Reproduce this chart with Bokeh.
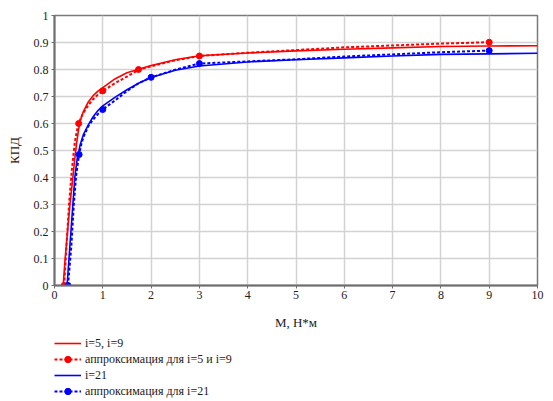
from bokeh.plotting import figure
from bokeh.layouts import column
from bokeh.models import Legend, LegendItem, FixedTicker, Range1d
from bokeh.embed import file_html
from bokeh.resources import INLINE

# ---- data ----
# solid curve, i=5, i=9
m_red = [0.18, 0.22, 0.27, 0.32, 0.38, 0.42, 0.46, 0.5, 0.55, 0.6, 0.7, 0.8, 0.9, 1.0, 1.25, 1.5, 2.0, 2.5, 3.0, 4.0, 5.0, 6.0, 7.0, 8.0, 9.0, 10.0]
eta_red = [0.0, 0.1, 0.2, 0.3, 0.4, 0.47, 0.53, 0.58, 0.62, 0.645, 0.68, 0.703, 0.72, 0.733, 0.765, 0.788, 0.815, 0.836, 0.851, 0.861, 0.869, 0.875, 0.88, 0.885, 0.887, 0.888]
# approximation, i=5 and i=9 (dotted)
m_red_apx = [0.2, 0.25, 0.3, 0.36, 0.42, 0.46, 0.5, 0.55, 0.6, 0.7, 0.8, 0.9, 1.0, 1.25, 1.5, 1.75, 2.0, 2.5, 3.0, 4.0, 5.0, 6.0, 7.0, 8.0, 9.0]
eta_red_apx = [0.0, 0.15, 0.3, 0.43, 0.53, 0.57, 0.6, 0.622, 0.64, 0.668, 0.69, 0.707, 0.72, 0.749, 0.774, 0.8, 0.812, 0.834, 0.85, 0.862, 0.872, 0.882, 0.889, 0.896, 0.901]
m_red_pts = [0.2, 0.5, 1.0, 1.74, 3.0, 9.0]
eta_red_pts = [0.0, 0.6, 0.721, 0.8, 0.85, 0.901]
# solid curve, i=21
m_blue = [0.26, 0.3, 0.34, 0.38, 0.42, 0.47, 0.53, 0.6, 0.7, 0.8, 0.9, 1.0, 1.25, 1.5, 1.75, 2.0, 2.5, 3.0, 4.0, 5.0, 6.0, 7.0, 8.0, 9.0, 10.0]
eta_blue = [0.0, 0.1, 0.2, 0.3, 0.4, 0.47, 0.52, 0.56, 0.595, 0.625, 0.648, 0.665, 0.697, 0.725, 0.75, 0.77, 0.797, 0.813, 0.828, 0.836, 0.843, 0.85, 0.856, 0.858, 0.86]
# approximation, i=21 (dotted)
m_blue_apx = [0.28, 0.35, 0.4, 0.45, 0.51, 0.55, 0.6, 0.7, 0.8, 0.9, 1.0, 1.25, 1.5, 1.75, 2.0, 2.5, 3.0, 4.0, 5.0, 6.0, 7.0, 8.0, 9.0]
eta_blue_apx = [0.0, 0.15, 0.3, 0.41, 0.485, 0.52, 0.55, 0.59, 0.615, 0.635, 0.652, 0.685, 0.72, 0.75, 0.771, 0.799, 0.822, 0.83, 0.838, 0.848, 0.856, 0.864, 0.87]
m_blue_pts = [0.28, 0.51, 1.0, 2.0, 3.0, 9.0]
eta_blue_pts = [0.0, 0.485, 0.652, 0.771, 0.822, 0.87]

x_ticks = [0, 1, 2, 3, 4, 5, 6, 7, 8, 9, 10]
x_tick_labels = ["0", "1", "2", "3", "4", "5", "6", "7", "8", "9", "10"]
y_ticks = [0, 0.1, 0.2, 0.3, 0.4, 0.5, 0.6, 0.7, 0.8, 0.9, 1]
y_tick_labels = ["0", "0.1", "0.2", "0.3", "0.4", "0.5", "0.6", "0.7", "0.8", "0.9", "1"]

labels = ["i=5, i=9", "аппроксимация для i=5 и i=9", "i=21", "аппроксимация для i=21"]
x_label = "М, Н*м"
y_label = "КПД"

RED = "#ff0000"
BLUE = "#0000ff"
FONT = "Liberation Serif"

p = figure(frame_width=483, frame_height=270, output_backend="svg", toolbar_location=None,
           x_range=Range1d(0, 10), y_range=Range1d(0, 1),
           min_border_left=54, min_border_right=14, min_border_top=15, min_border_bottom=50)

p.outline_line_color = "#7a7a7a"
p.outline_line_width = 1.5

for ax, ticks, tlabels in ((p.xaxis[0], x_ticks, x_tick_labels), (p.yaxis[0], y_ticks, y_tick_labels)):
    ax.ticker = FixedTicker(ticks=ticks)
    ax.major_label_overrides = {t: l for t, l in zip(ticks, tlabels)}
    ax.axis_line_color = "#6e6e6e"
    ax.axis_line_width = 2
    ax.major_tick_in = 0
    ax.major_tick_out = 3
    ax.major_tick_line_color = "#6e6e6e"
    ax.minor_tick_line_color = None
    ax.major_label_text_font = FONT
    ax.major_label_text_font_size = "12px"
    ax.major_label_text_color = "#222222"
    ax.axis_label_text_font = FONT
    ax.axis_label_text_font_size = "13px"
    ax.axis_label_text_font_style = "normal"
    ax.axis_label_text_color = "#222222"

p.xaxis.major_label_standoff = 2
p.xaxis.axis_label = x_label
p.xaxis.axis_label_standoff = 13
p.yaxis.major_label_standoff = 3
p.yaxis.axis_label = y_label
p.yaxis.axis_label_standoff = 9

p.xgrid.grid_line_color = "#d2d2d2"
p.ygrid.grid_line_color = "#d2d2d2"
p.xgrid.grid_line_width = 1.5
p.ygrid.grid_line_width = 1.5

p.line(m_red, eta_red, line_color=RED, line_width=1.6)
p.line(m_red_apx, eta_red_apx, line_color=RED, line_width=2, line_dash="3 2")
p.scatter(m_red_pts, eta_red_pts, size=6, fill_color=RED, line_color=RED)
p.line(m_blue, eta_blue, line_color=BLUE, line_width=1.6)
p.line(m_blue_apx, eta_blue_apx, line_color=BLUE, line_width=2, line_dash="3 2")
p.scatter(m_blue_pts, eta_blue_pts, size=6, fill_color=BLUE, line_color=BLUE)

# legend panel below the chart (its sample renderers lie outside the visible range)
lg = figure(width=551, height=70, output_backend="svg", toolbar_location=None,
            x_range=Range1d(0, 1), y_range=Range1d(0, 1),
            x_axis_location=None, y_axis_location=None,
            min_border_left=51, min_border_right=0, min_border_top=0, min_border_bottom=0)
lg.grid.visible = False
lg.outline_line_color = None
hx = [-10, -9]
hy = [-10, -9]
l1 = lg.line(hx, hy, line_color=RED, line_width=1.6)
l2 = lg.line(hx, hy, line_color=RED, line_width=2, line_dash="3 2")
l2m = lg.scatter(hx, hy, size=6, fill_color=RED, line_color=RED)
l3 = lg.line(hx, hy, line_color=BLUE, line_width=1.6)
l4 = lg.line(hx, hy, line_color=BLUE, line_width=2, line_dash="3 2")
l4m = lg.scatter(hx, hy, size=6, fill_color=BLUE, line_color=BLUE)

legend = Legend(items=[
    LegendItem(label=labels[0], renderers=[l1]),
    LegendItem(label=labels[1], renderers=[l2, l2m]),
    LegendItem(label=labels[2], renderers=[l3]),
    LegendItem(label=labels[3], renderers=[l4, l4m]),
], location="top_left", orientation="vertical")
legend.border_line_color = None
legend.background_fill_alpha = 0
legend.margin = 0
legend.padding = 4
legend.spacing = 0
legend.glyph_width = 27
legend.glyph_height = 16
legend.label_height = 16
legend.label_standoff = 4
legend.label_text_font = FONT
legend.label_text_font_size = "12px"
legend.label_text_color = "#222222"
lg.add_layout(legend, "center")

layout = column(p, lg, spacing=0)
open("out.html", "w").write(file_html(layout, INLINE))
